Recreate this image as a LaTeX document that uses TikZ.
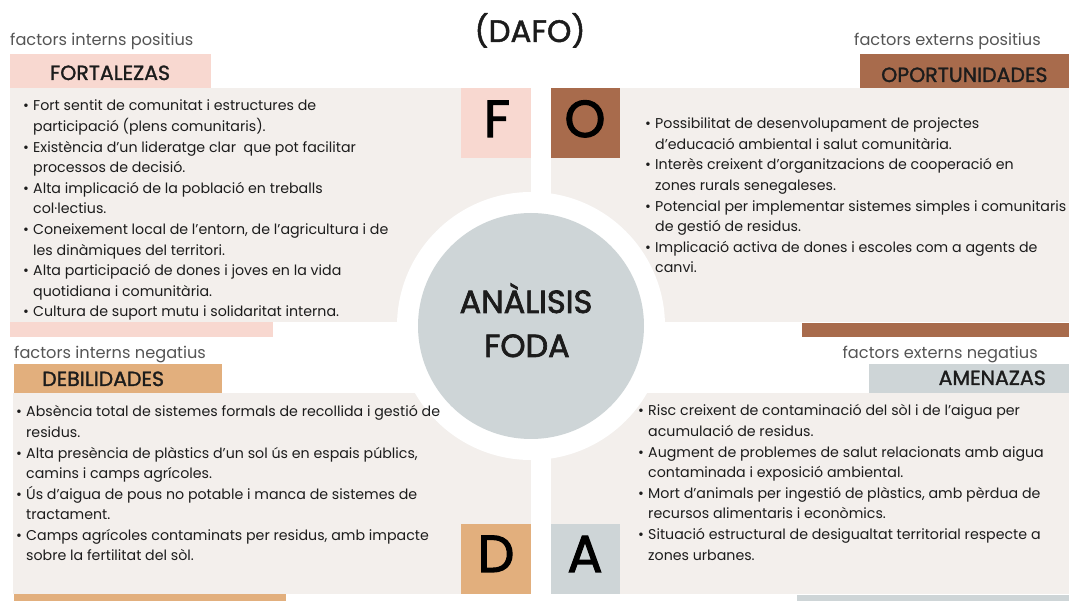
\documentclass[tikz,border=0pt]{standalone}
\usepackage{fontspec}
\setmainfont{Poppins}
\newfontfamily\headfont[FakeBold=1.5]{Poppins}
\newfontfamily\centfont[FakeBold=2.2]{Poppins}
\definecolor{pale}{HTML}{F3EFEC}
\definecolor{pinkc}{HTML}{F8D8D0}
\definecolor{brownc}{HTML}{A86B4C}
\definecolor{orangec}{HTML}{E2AF7D}
\definecolor{grayc}{HTML}{CED5D7}
\definecolor{darktxt}{HTML}{1C1C1C}
\definecolor{labtxt}{HTML}{555555}
\newcommand{\bl}{\makebox[10pt][l]{\textbullet}}
\newcommand{\cl}{\hspace*{10pt}}
\tikzset{
  bodytxt/.style={inner sep=0pt, align=left, text=darktxt, font=\fontsize{14.2}{20.6}\selectfont},
  factlab/.style={inner sep=0pt, text=labtxt, font=\fontsize{16.2}{19}\selectfont},
  headlab/.style={inner sep=0pt, text=darktxt, font=\headfont\fontsize{20.5}{24}\selectfont},
  bigletter/.style={inner sep=0pt, text=black, font=\centfont\fontsize{52}{60}\selectfont},
  centerlab/.style={inner sep=0pt, text=darktxt, font=\centfont\fontsize{32}{38}\selectfont}
}
\begin{document}
\begin{tikzpicture}[x=1pt,y=-1pt]
\useasboundingbox (0,0) rectangle (1069,601);
\fill[white] (0,0) rectangle (1069,601);
% panels
\fill[pale] (10,88) rectangle (531,322);
\fill[pale] (551,88) rectangle (1069,322);
\fill[pale] (13,393) rectangle (531,594);
\fill[pale] (551,393) rectangle (1069,594);
% circles
\fill[white] (531,326) circle[radius=134];
\fill[grayc] (531,326) circle[radius=113];
% bars
\fill[pinkc] (10,54) rectangle (211,88);
\fill[brownc] (860,54) rectangle (1069,88);
\fill[pinkc] (10,322) rectangle (273,337);
\fill[brownc] (802,323) rectangle (1069,337);
\fill[orangec] (14,364) rectangle (222,393);
\fill[grayc] (869,364) rectangle (1069,393);
\fill[orangec] (14,594) rectangle (286,601);
\fill[grayc] (797,595) rectangle (1069,601);
% letter boxes
\fill[pinkc] (461,88) rectangle (531,158);
\fill[brownc] (551,88) rectangle (620,158);
\fill[orangec] (461,524) rectangle (531,594);
\fill[grayc] (551,524) rectangle (620,594);
% title
\node[inner sep=0pt, text=darktxt, font=\headfont\fontsize{31}{36}\selectfont, anchor=base] (title) at (530,42) {(DAFO)};
% labels
\node[factlab, anchor=base west] (fip) at (10,46) {factors interns positius};
\node[factlab, anchor=base east] (fep) at (1041,46) {factors externs positius};
\node[factlab, anchor=base west] (fin) at (14,359) {factors interns negatius};
\node[factlab, anchor=base east] (fen) at (1038,359) {factors externs negatius};
\node[headlab, anchor=base] (fort) at (110,80) {FORTALEZAS};
\node[headlab, anchor=base west] (opor) at (881,82) {OPORTUNIDADES};
\node[headlab, anchor=base west] (debi) at (42,386) {DEBILIDADES};
\node[headlab, anchor=base east] (amen) at (1046,385) {AMENAZAS};
% big letters
\node[bigletter, anchor=base] (lf) at (497,137) {F};
\node[bigletter, anchor=base] (lo) at (585,137) {O};
\node[bigletter, anchor=base] (ld) at (496,572) {D};
\node[bigletter, anchor=base] (la) at (585,572) {A};
% center
\node[centerlab, anchor=base] (anal) at (526,313) {ANÀLISIS};
\node[centerlab, anchor=base] (foda) at (527,357) {FODA};
% body texts (anchored at the baseline of their last line)
\node[bodytxt, anchor=base west] (ftxt) at (23,317) {\bl Fort sentit de comunitat i estructures de\\
\cl participació (plens comunitaris).\\
\bl Existència d’un lideratge clar\ \ que pot facilitar\\
\cl processos de decisió.\\
\bl Alta implicació de la població en treballs\\
\cl col·lectius.\\
\bl Coneixement local de l’entorn, de l’agricultura i de\\
\cl les dinàmiques del territori.\\
\bl Alta participació de dones i joves en la vida\\
\cl quotidiana i comunitària.\\
\bl Cultura de suport mutu i solidaritat interna.};
\node[bodytxt, anchor=base west] (otxt) at (645,273) {\bl Possibilitat de desenvolupament de projectes\\
\cl d’educació ambiental i salut comunitària.\\
\bl Interès creixent d’organitzacions de cooperació en\\
\cl zones rurals senegaleses.\\
\bl Potencial per implementar sistemes simples i comunitaris\\
\cl de gestió de residus.\\
\bl Implicació activa de dones i escoles com a agents de\\
\cl canvi.};
\node[bodytxt, anchor=base west] (dtxt) at (16,561) {\bl Absència total de sistemes formals de recollida i gestió de\\
\cl residus.\\
\bl Alta presència de plàstics d’un sol ús en espais públics,\\
\cl camins i camps agrícoles.\\
\bl Ús d’aigua de pous no potable i manca de sistemes de\\
\cl tractament.\\
\bl Camps agrícoles contaminats per residus, amb impacte\\
\cl sobre la fertilitat del sòl.};
\node[bodytxt, anchor=base west] (atxt) at (638,560) {\bl Risc creixent de contaminació del sòl i de l’aigua per\\
\cl acumulació de residus.\\
\bl Augment de problemes de salut relacionats amb aigua\\
\cl contaminada i exposició ambiental.\\
\bl Mort d’animals per ingestió de plàstics, amb pèrdua de\\
\cl recursos alimentaris i econòmics.\\
\bl Situació estructural de desigualtat territorial respecte a\\
\cl zones urbanes.};
\end{tikzpicture}
\end{document}
